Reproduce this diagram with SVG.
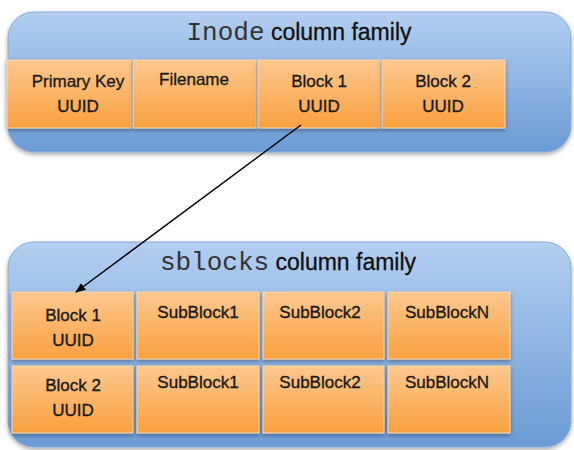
<svg xmlns="http://www.w3.org/2000/svg" width="574" height="450" viewBox="0 0 574 450">
  <defs>
    <linearGradient id="famFill" x1="0" y1="0" x2="0" y2="1">
      <stop offset="0" stop-color="#b3cff1"/>
      <stop offset="1" stop-color="#6b9bd5"/>
    </linearGradient>
    <linearGradient id="cellFill" x1="0" y1="0" x2="0" y2="1">
      <stop offset="0" stop-color="#fdc88f"/>
      <stop offset="1" stop-color="#f9a03e"/>
    </linearGradient>
    <filter id="shadow" x="-10%" y="-10%" width="120%" height="130%">
      <feDropShadow dx="0" dy="2" stdDeviation="2" flood-color="#000" flood-opacity="0.35"/>
    </filter>
    <marker id="arrow" viewBox="0 0 10 10" refX="9" refY="5" markerWidth="7" markerHeight="7" orient="auto">
      <path d="M0,1 L10,5 L0,9 z" fill="#000"/>
    </marker>
  </defs>
  <style>
    .family { fill: url(#famFill); stroke: #86aadb; stroke-width: 1; filter: url(#shadow); }
    .cell { fill: url(#cellFill); stroke: #fbd7ae; stroke-width: 1; filter: url(#shadow); }
    .title { font-family: "Liberation Sans", Arial, sans-serif; font-size: 23px; fill: #111; stroke: #111; stroke-width: 0.3; text-anchor: middle; }
    .mono { font-family: "Liberation Mono", "Courier New", monospace; font-size: 26px; fill: #333; stroke: none; }
    .label { font-family: "Liberation Sans", Arial, sans-serif; font-size: 17px; fill: #1a1a1a; stroke: #1a1a1a; stroke-width: 0.35; text-anchor: middle; }
    .link { stroke: #000; stroke-width: 1.5; fill: none; }
  </style>

  <!-- Inode column family -->
  <g id="inode-family">
    <rect class="family" x="8" y="12" width="563" height="140" rx="26" ry="26"/>
    <text class="title" x="299" y="40"><tspan class="mono">Inode</tspan> column family</text>
  </g>
  <g id="inode-primary-key">
    <rect class="cell" x="7" y="60" width="124" height="68"/>
    <text class="label" x="78" y="87">Primary Key</text>
    <text class="label" x="78" y="112">UUID</text>
  </g>
  <g id="inode-filename">
    <rect class="cell" x="133" y="60" width="123" height="68"/>
    <text class="label" x="194" y="85">Filename</text>
  </g>
  <g id="inode-block1">
    <rect class="cell" x="258" y="60" width="122" height="68"/>
    <text class="label" x="319" y="87">Block 1</text>
    <text class="label" x="319" y="112">UUID</text>
  </g>
  <g id="inode-block2">
    <rect class="cell" x="382" y="60" width="123" height="68"/>
    <text class="label" x="443" y="87">Block 2</text>
    <text class="label" x="443" y="112">UUID</text>
  </g>

  <!-- sblocks column family -->
  <g id="sblocks-family">
    <rect class="family" x="8" y="242" width="563" height="205" rx="26" ry="26"/>
    <text class="title" x="288" y="270"><tspan class="mono">sblocks</tspan> column family</text>
  </g>
  <g id="sblocks-row1-key">
    <rect class="cell" x="12" y="292" width="121" height="67"/>
    <text class="label" x="73" y="321">Block 1</text>
    <text class="label" x="73" y="346">UUID</text>
  </g>
  <g id="sblocks-row1-sub1">
    <rect class="cell" x="137" y="292" width="122" height="67"/>
    <text class="label" x="198" y="318">SubBlock1</text>
  </g>
  <g id="sblocks-row1-sub2">
    <rect class="cell" x="263" y="292" width="121" height="67"/>
    <text class="label" x="320" y="318">SubBlock2</text>
  </g>
  <g id="sblocks-row1-subN">
    <rect class="cell" x="388" y="292" width="122" height="67"/>
    <text class="label" x="447" y="318">SubBlockN</text>
  </g>
  <g id="sblocks-row2-key">
    <rect class="cell" x="12" y="366" width="121" height="67"/>
    <text class="label" x="73" y="391">Block 2</text>
    <text class="label" x="73" y="416">UUID</text>
  </g>
  <g id="sblocks-row2-sub1">
    <rect class="cell" x="137" y="366" width="122" height="67"/>
    <text class="label" x="198" y="388">SubBlock1</text>
  </g>
  <g id="sblocks-row2-sub2">
    <rect class="cell" x="263" y="366" width="121" height="67"/>
    <text class="label" x="320" y="388">SubBlock2</text>
  </g>
  <g id="sblocks-row2-subN">
    <rect class="cell" x="388" y="366" width="122" height="67"/>
    <text class="label" x="447" y="388">SubBlockN</text>
  </g>

  <!-- connectors -->
  <g id="connectors">
    <line class="link" x1="301" y1="125" x2="76" y2="292" marker-end="url(#arrow)"/>
  </g>
</svg>
